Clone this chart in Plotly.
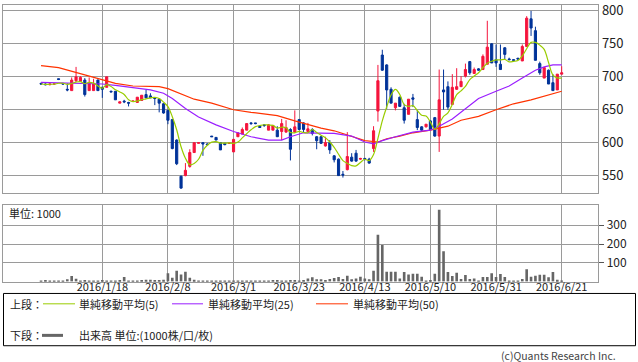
import plotly.graph_objects as go
import pandas as pd

# ---------------- data ----------------
# trading-day index 0..119 (index 14 = 2016/1/18, 119 = 2016/6/21)
opens = [690, 689, 688, 689, 697, 690, 681, 679, 694, 693,
         695, 679, 679, 695, 684, 684, 678, 678, 660, 663,
         661, 663, 661, 664, 673, 671, 668, 666, 659, 649,
         635, 604, 549, 550, 564, 585, 599, 600, 598, 610,
         608, 600, 599, 599, 586, 609, 613, 619, 630, 630,
         625, 627, 619, 619, 619, 617, 616, 620, 616, 635,
         630, 617, 620, 609, 609, 595, 600, 580, 575, 552,
         559, 578, 584, 575, 576, 575, 591, 648, 733, 718,
         681, 653, 669, 653, 643, 668, 635, 624, 624, 633,
         638, 610, 680, 685, 658, 681, 685, 701, 723, 705,
         712, 711, 719, 750, 726, 719, 744, 727, 726, 728,
         724, 746, 788, 770, 720, 698, 710, 691, 680, 704]
highs = [691, 690, 690, 690, 697, 690, 690, 699, 715, 701,
         698, 699, 697, 696, 685, 700, 679, 678, 662, 665,
         662, 664, 669, 672, 680, 675, 668, 667, 660, 650,
         636, 605, 550, 569, 590, 600, 600, 600, 599, 610,
         608, 600, 599, 600, 605, 615, 623, 629, 631, 630,
         626, 628, 628, 627, 625, 636, 634, 622, 649, 636,
         631, 630, 622, 610, 610, 609, 604, 581, 576, 557,
         616, 584, 589, 577, 577, 577, 625, 718, 741, 719,
         684, 660, 670, 659, 666, 674, 649, 625, 628, 634,
         639, 711, 711, 693, 704, 713, 701, 720, 724, 714,
         713, 734, 785, 751, 749, 749, 745, 729, 727, 729,
         749, 792, 800, 776, 723, 714, 711, 704, 704, 716]
lows = [688, 687, 687, 688, 695, 688, 678, 679, 692, 692,
        670, 679, 679, 679, 668, 684, 677, 665, 660, 660,
        655, 662, 661, 664, 668, 668, 657, 646, 644, 628,
        590, 566, 530, 549, 562, 585, 599, 580, 596, 609,
        604, 589, 596, 598, 586, 609, 613, 619, 627, 628,
        623, 624, 619, 619, 609, 604, 615, 573, 615, 619,
        615, 616, 611, 590, 598, 594, 583, 570, 550, 547,
        558, 571, 571, 574, 573, 568, 586, 632, 709, 651,
        660, 649, 655, 629, 643, 654, 619, 617, 623, 618,
        609, 586, 650, 650, 658, 680, 685, 699, 703, 705,
        709, 711, 719, 721, 715, 711, 726, 725, 724, 726,
        724, 746, 762, 725, 703, 698, 689, 679, 680, 704]
closes = [689, 688, 689, 689, 696, 689, 680, 695, 700, 699,
          673, 691, 689, 679, 681, 700, 677, 665, 662, 662,
          660, 663, 669, 672, 668, 668, 667, 660, 645, 634,
          591, 568, 531, 558, 585, 600, 600, 598, 597, 609,
          604, 589, 597, 599, 605, 615, 620, 629, 629, 629,
          623, 626, 627, 626, 609, 629, 623, 590, 624, 620,
          620, 621, 614, 603, 599, 600, 589, 574, 550, 551,
          579, 572, 572, 576, 575, 569, 618, 694, 710, 680,
          660, 660, 655, 634, 666, 666, 623, 619, 628, 620,
          610, 665, 677, 654, 684, 685, 693, 711, 706, 711,
          710, 731, 745, 721, 721, 711, 734, 726, 725, 727,
          746, 789, 774, 725, 706, 714, 689, 679, 704, 706]
volumes = [5, 8, 3, 3, 3, 5, 12, 30, 15, 5,
           8, 3, 6, 6, 8, 2, 2, 5, 8, 25,
           3, 1, 4, 8, 10, 10, 8, 8, 10, 45,
           20, 58, 38, 52, 20, 10, 3, 5, 2, 2,
           2, 2, 2, 1, 3, 2, 5, 5, 3, 2,
           2, 3, 5, 8, 8, 3, 3, 8, 8, 5,
           9, 17, 23, 12, 12, 9, 14, 19, 24, 14,
           31, 12, 17, 26, 16, 12, 58, 250, 195, 52,
           52, 52, 16, 51, 38, 42, 42, 26, 5, 9,
           42, 382, 162, 51, 30, 47, 14, 35, 14, 16,
           5, 24, 24, 45, 24, 40, 24, 3, 5, 3,
           14, 66, 26, 31, 37, 37, 23, 51, 10, 1]

ma25_idx = [0, 5, 10, 14, 17, 21, 25, 28, 30, 33, 36, 40, 44, 48, 52, 55, 57, 60,
            64, 67, 71, 74, 76, 78, 81, 85, 89, 91, 94, 97, 100, 104, 107, 110,
            113, 115, 117, 119]
ma25_val = [691.5, 690.5, 690.5, 689, 687, 684, 680, 675, 667, 652, 639, 627, 617,
            609, 604, 604, 609, 615, 615, 614, 610, 601, 598, 603, 609, 616, 619,
            625, 636, 652, 667, 678, 686, 698, 710, 715, 718, 718]
ma50_idx = [0, 4, 10, 14, 17, 21, 25, 27, 29, 32, 35, 39, 44, 48, 54, 58, 64, 67,
            71, 74, 77, 79, 82, 85, 89, 93, 96, 100, 104, 108, 112, 116, 119]
ma50_val = [717, 714, 703, 696, 690, 686, 686, 685, 682, 674, 666, 660, 650, 646,
            641, 633, 622, 618, 610, 603, 601, 606, 610, 615, 619, 625, 634, 640,
            650, 659, 665, 672, 678]

tick_idx = [14, 29, 44, 59, 74, 89, 104, 119]
tick_labels = ["2016/1/18", "2016/2/8", "2016/3/1", "2016/3/23",
               "2016/4/13", "2016/5/10", "2016/5/31", "2016/6/21"]
price_ticks = [550, 600, 650, 700, 750, 800]
vol_ticks = [100, 200, 300]

# ---------------- styling ----------------
W, H = 638, 362
RED = "#f5143c"
BLUE = "#003399"
C_MA5 = "#99cc00"
C_MA25 = "#9a1eff"
C_MA50 = "#ff3300"
C_VOL = "#666666"
GRID = "#9a9a9a"
FONT = "Noto Sans CJK JP"

def px(x):
    return x / W

def py(y):
    return 1 - y / H

idx = list(range(len(closes)))
ma5 = pd.Series(closes).rolling(5, min_periods=1).mean().tolist()

fig = go.Figure()
fig.add_trace(go.Candlestick(
    x=idx, open=opens, high=highs, low=lows, close=closes,
    increasing=dict(line=dict(color=RED, width=1), fillcolor=RED),
    decreasing=dict(line=dict(color=BLUE, width=1), fillcolor=BLUE),
    whiskerwidth=0, xaxis="x", yaxis="y", showlegend=False, hoverinfo="skip"))
fig.add_trace(go.Scatter(x=ma50_idx, y=ma50_val, mode="lines",
                         line=dict(color=C_MA50, width=1.2), xaxis="x", yaxis="y",
                         showlegend=False, hoverinfo="skip"))
fig.add_trace(go.Scatter(x=ma25_idx, y=ma25_val, mode="lines",
                         line=dict(color=C_MA25, width=1.2), xaxis="x", yaxis="y",
                         showlegend=False, hoverinfo="skip"))
fig.add_trace(go.Scatter(x=idx, y=ma5, mode="lines", line_shape="spline",
                         line=dict(color=C_MA5, width=1.2), xaxis="x", yaxis="y",
                         showlegend=False, hoverinfo="skip"))
fig.add_trace(go.Bar(x=idx, y=volumes, marker=dict(color=C_VOL, line=dict(width=0)),
                     width=0.6, xaxis="x2", yaxis="y2", showlegend=False,
                     hoverinfo="skip"))

xr = [14 - (102.3 - 3.3) / 4.375, 14 + (598.3 - 102.3) / 4.375]
xdom = [px(3.3), px(598.3)]

axis_common = dict(showgrid=True, gridcolor=GRID, gridwidth=1, showline=True,
                   linecolor=GRID, linewidth=1, mirror=True, zeroline=False)

fig.update_layout(
    width=W, height=H, margin=dict(l=0, r=0, t=0, b=0),
    paper_bgcolor="white", plot_bgcolor="white",
    font=dict(family=FONT, size=11, color="#222222"),
    xaxis=dict(domain=xdom, range=xr, anchor="y", tickvals=tick_idx,
               ticktext=tick_labels, showticklabels=False, ticks="",
               rangeslider=dict(visible=False), **axis_common),
    yaxis=dict(domain=[py(190.5), py(0.5)], range=[523.8, 808.2], side="right",
               anchor="x", tickvals=price_ticks, ticks="", ticklen=0,
               ticklabeloverflow="allow",
               tickfont=dict(size=13, color="#222222"), **axis_common),
    xaxis2=dict(domain=xdom, range=xr, anchor="y2", tickvals=tick_idx,
                ticktext=tick_labels, ticks="", ticklabelstandoff=-5,
                tickfont=dict(size=11, color="#222222"), **axis_common),
    yaxis2=dict(domain=[py(280.5), py(203.3)], range=[0, 405], side="right",
                anchor="x2", tickvals=vol_ticks, ticks="outside", ticklen=5,
                tickcolor="#555555",
                tickfont=dict(size=12, color="#222222"), **axis_common),
    bargap=0.3,
)

shapes = []
annotations = []
# legend box
shapes.append(dict(type="rect", xref="paper", yref="paper",
                   x0=px(3.5), x1=px(635.5), y0=py(345.5), y1=py(292.5),
                   line=dict(color="#000000", width=1)))
row1, row2 = 303, 335
for (x0, x1, col, w) in [(43, 75, C_MA5, 1), (172, 203, C_MA25, 1), (316, 348, C_MA50, 1)]:
    shapes.append(dict(type="line", xref="paper", yref="paper", x0=px(x0), x1=px(x1),
                       y0=py(row1), y1=py(row1), line=dict(color=col, width=w)))
shapes.append(dict(type="line", xref="paper", yref="paper", x0=px(42), x1=px(63),
                   y0=py(row2), y1=py(row2), line=dict(color="#666666", width=3)))

def txt(x, y, s, anchor="left", size=11, color="#222222"):
    annotations.append(dict(text=s, xref="paper", yref="paper", x=px(x), y=py(y),
                            xanchor=anchor, yanchor="middle", showarrow=False,
                            font=dict(family=FONT, size=size, color=color)))

txt(8, 303, "上段：")
txt(77, 303, "単純移動平均(5)")
txt(206, 303, "単純移動平均(25)")
txt(351, 303, "単純移動平均(50)")
txt(8, 335, "下段：")
txt(77, 335, "出来高 単位:(1000株/口/枚)")
txt(7, 211, "単位: 1000")
txt(618, 355, "(c)Quants Research Inc.", anchor="right", size=10.5, color="#444444")

fig.update_layout(shapes=shapes, annotations=annotations)
fig.write_html("out.html", config={"displayModeBar": False},
               post_script="document.body.style.margin='0px';")
